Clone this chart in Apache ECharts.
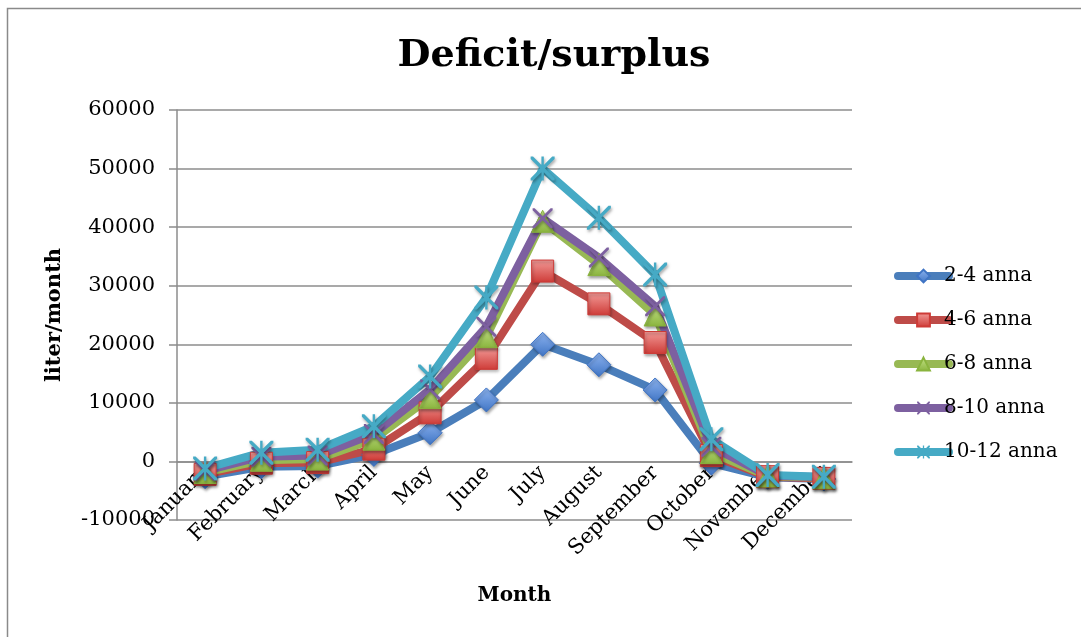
<!DOCTYPE html>
<html>
<head>
<meta charset="utf-8">
<script src="https://cdn.jsdelivr.net/npm/echarts@6/dist/echarts.min.js"></script>
<style>
  html, body { margin: 0; padding: 0; background: #ffffff; }
  #chart { width: 1081px; height: 637px; }
</style>
</head>
<body>
<div id="chart"></div>
<script>
// Monthly water balance per household size group
const months = ['January', 'February', 'March', 'April', 'May', 'June',
  'July', 'August', 'September', 'October', 'November', 'December'];
const seriesNames = ['2-4 anna', '4-6 anna', '6-8 anna', '8-10 anna', '10-12 anna'];
const s2to4 = [-2600, -900, -800, 1200, 4900, 10500, 20000, 16500, 12200, -300, -2700, -3000];
const s4to6 = [-2200, -300, -200, 2100, 8300, 17600, 32500, 26900, 20300, 1000, -2600, -2900];
const s6to8 = [-1900, 200, 400, 3800, 10900, 21300, 41000, 33600, 25000, 1500, -2500, -2800];
const s8to10 = [-1600, 800, 1000, 4700, 12300, 23000, 41500, 34800, 26500, 2500, -2400, -2700];
const s10to12 = [-1200, 1500, 2000, 6000, 14500, 28000, 50000, 41600, 31900, 3800, -2300, -2600];
const yTicks = [-10000, 0, 10000, 20000, 30000, 40000, 50000, 60000];

const FONT = 'DejaVu Serif';
const lineColors = ['#4A7EBB', '#BE4B48', '#98B954', '#7D60A0', '#46AAC5'];
const markerTop = ['#8DB4F0', '#F29B98', '#C6E48A', '#A98BCB', '#86D3E8'];
const markerBottom = ['#3F74C4', '#CE3B37', '#8AB43E', '#6A4A92', '#2D9DBB'];

// thin X and asterisk marker outlines
const crossPath = 'path://M0,0L2,0L10,8L18,0L20,0L20,2L12,10L20,18L20,20L18,20L10,12L2,20L0,20L0,18L8,10L0,2Z';
const starPath = 'path://M0,0L2,0L9,7L9,0L11,0L11,7L18,0L20,0L20,2L12,10L20,18L20,20L18,20L11,13L11,20L9,20L9,13L2,20L0,20L0,18L8,10L0,2Z';
const symbols = ['diamond', 'rect', 'triangle', crossPath, starPath];
const symbolSizes = [24, 22, 22, 20, 24];
const dataSets = [s2to4, s4to6, s6to8, s8to10, s10to12];

// plot box
const gridTop = 110, gridBottom = 117, chartH = 637;
const yMin = -10000, yMax = 60000;
const plotH = chartH - gridTop - gridBottom;
// the category axis sits on the zero line, lifted up from the plot's lower edge
const zeroLift = plotH * (0 - yMin) / (yMax - yMin);

const chart = echarts.init(document.getElementById('chart'));

const series = seriesNames.map((name, i) => ({
  name: name,
  type: 'line',
  data: dataSets[i],
  symbol: symbols[i],
  symbolSize: symbolSizes[i],
  showAllSymbol: true,
  lineStyle: { color: lineColors[i], width: 8, cap: 'round', join: 'round' },
  itemStyle: {
    color: (i >= 3) ? lineColors[i] : new echarts.graphic.LinearGradient(0, 0, 0, 1, [
      { offset: 0, color: markerTop[i] },
      { offset: 1, color: markerBottom[i] }
    ]),
    borderColor: (i >= 3) ? lineColors[i] : markerBottom[i],
    borderWidth: (i >= 3) ? 0 : 1,
    shadowColor: 'rgba(0,0,0,0.35)',
    shadowBlur: 3,
    shadowOffsetX: 1,
    shadowOffsetY: 2
  },
  emphasis: { disabled: true },
  animation: false
}));

chart.setOption({
  animation: false,
  backgroundColor: '#ffffff',
  title: {
    text: 'Deficit/surplus',
    left: 549,
    top: 32,
    textAlign: 'center',
    textStyle: { fontFamily: FONT, fontWeight: 'bold', fontSize: 38, color: '#000' }
  },
  graphic: [{
    type: 'rect',
    shape: { x: 7.5, y: 8.5, width: 1200, height: 800 },
    style: { fill: 'none', stroke: '#8a8a8a', lineWidth: 1.5 },
    silent: true
  }],
  legend: {
    orient: 'vertical',
    left: 889,
    top: 261,
    itemWidth: 51,
    itemHeight: 16,
    itemGap: 24,
    data: seriesNames,
    lineStyle: { width: 8, cap: 'round' },
    textStyle: { fontFamily: FONT, fontSize: 20, color: '#000', padding: [0, 0, 0, -10] }
  },
  grid: { left: 177, right: 229, top: gridTop, bottom: gridBottom, containLabel: false, outerBoundsMode: 'none' },
  xAxis: {
    type: 'category',
    data: months,
    boundaryGap: true,
    position: 'bottom',
    offset: -zeroLift,
    name: 'Month',
    nameLocation: 'middle',
    nameGap: 124,
    nameMoveOverlap: false,
    nameTextStyle: { fontFamily: FONT, fontWeight: 'bold', fontSize: 20, color: '#000' },
    axisLine: { onZero: false, lineStyle: { color: '#8c8c8c', width: 1.5 } },
    axisTick: { show: false },
    axisLabel: {
      rotate: 45,
      interval: 0,
      margin: 8,
      fontFamily: FONT,
      fontSize: 21,
      color: '#000'
    }
  },
  yAxis: {
    type: 'value',
    min: yMin,
    max: yMax,
    interval: 10000,
    name: 'liter/month',
    nameLocation: 'middle',
    nameGap: 112,
    nameRotate: 90,
    nameTextStyle: { fontFamily: FONT, fontWeight: 'bold', fontSize: 21, color: '#000' },
    axisLine: { show: true, lineStyle: { color: '#8c8c8c', width: 1.5 } },
    axisTick: { show: true, inside: false, length: 8, lineStyle: { color: '#8c8c8c', width: 1.5 } },
    splitLine: { show: true, lineStyle: { color: '#8c8c8c', width: 1.5 } },
    axisLabel: {
      margin: 22,
      fontFamily: FONT,
      fontSize: 21,
      color: '#000',
      formatter: v => (yTicks.indexOf(v) >= 0 ? String(v) : '')
    }
  },
  series: series
});
</script>
</body>
</html>
